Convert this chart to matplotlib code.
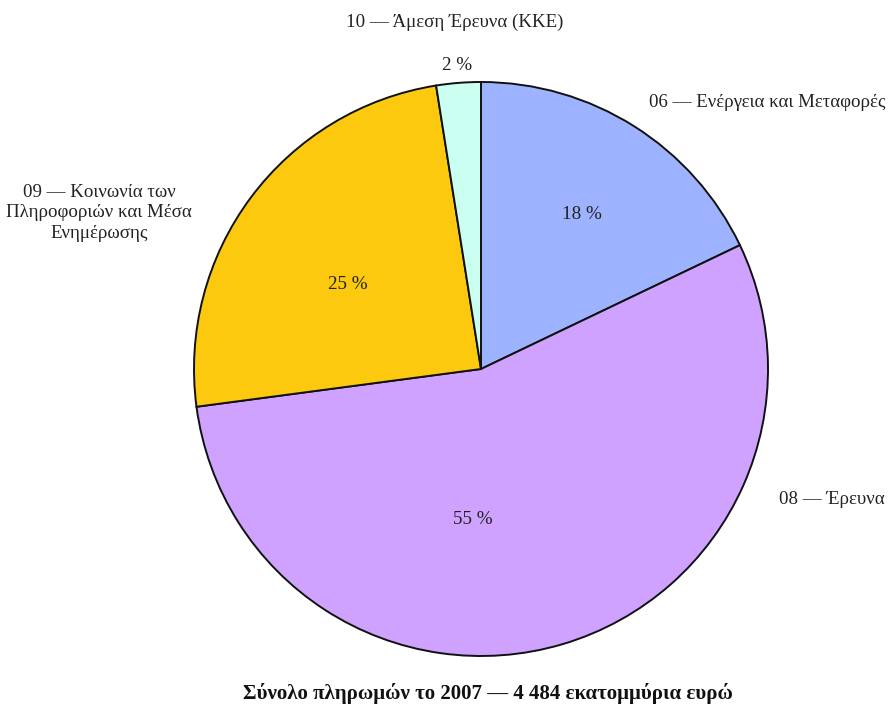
import matplotlib.pyplot as plt

plt.rcParams['font.family'] = ['Liberation Serif', 'DejaVu Serif']

# data
names = ['06 — Ενέργεια και Μεταφορές', '08 — Έρευνα',
         '09 — Κοινωνία των\nΠληροφοριών και Μέσα\nΕνημέρωσης',
         '10 — Άμεση Έρευνα (ΚΚΕ)']
shares = [17.9, 55.0, 24.6, 2.5]
pct_labels = ['18 %', '55 %', '25 %', '2 %']
colors = ['#9db3ff', '#cfa2ff', '#fcc90f', '#cafff2']
title = 'Σύνολο πληρωμών το 2007 — 4 484 εκατομμύρια ευρώ'

# label layout (data units, pie radius = 1)
name_pos = [(0.585, 0.93, 'left'), (1.038, -0.453, 'left'),
            (-1.33, 0.544, 'center'), (-0.09, 1.209, 'center')]
pct_pos = [(0.352, 0.537), (-0.028, -0.526), (-0.463, 0.296), (-0.084, 1.056)]

fig = plt.figure(figsize=(8.89, 7.11), dpi=100)
R = 287
cx, cy = 481, 369
ax = fig.add_axes([(cx - R) / 889, (711 - cy - R) / 711, 2 * R / 889, 2 * R / 711])

wedges, _ = ax.pie(shares, colors=colors, startangle=90, counterclock=False,
                   radius=1, wedgeprops=dict(edgecolor='#111111', linewidth=1.4))
ax.set_xlim(-1, 1)
ax.set_ylim(-1, 1)
ax.set_aspect('equal')
ax.axis('off')

for n, (x, y, ha) in zip(names, name_pos):
    ax.text(x, y, n, ha=ha, va='center', fontsize=13.6, color='#222222',
            linespacing=1.25, clip_on=False)
for s, (x, y) in zip(pct_labels, pct_pos):
    ax.text(x, y, s, ha='center', va='center', fontsize=13.8,
            color='#222222', clip_on=False)

ax.text(0.025, -1.132, title, ha='center', va='center', fontsize=15,
        fontweight='bold', color='#111111', clip_on=False)

fig.savefig('out.png', dpi=100)
